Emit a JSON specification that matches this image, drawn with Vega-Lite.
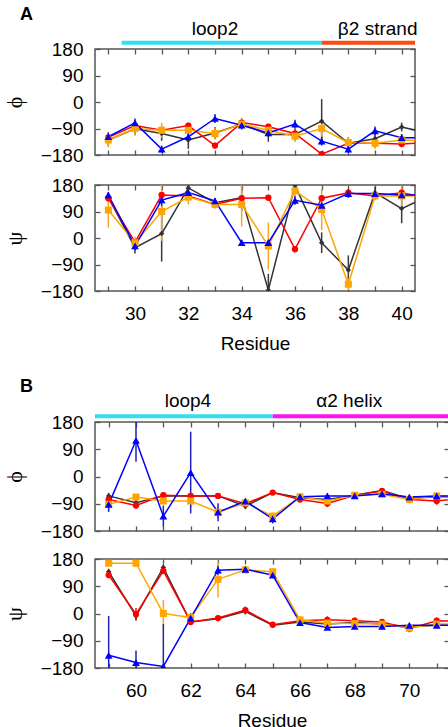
{
  "$schema": "https://vega.github.io/schema/vega-lite/v6.json",
  "padding": {"left": 2, "top": 4, "right": 0, "bottom": 0},
  "config": {
    "font": "Liberation Sans",
    "view": {"stroke": "#555555", "strokeWidth": 1.5},
    "axis": {"grid": false, "domain": false, "tickSize": -5, "tickColor": "#555555", "tickWidth": 1.3, "labelFontSize": 19, "labelColor": "#000000", "labelFont": "Liberation Sans", "labelOverlap": false, "titleFontSize": 19, "titleFontWeight": "normal", "titleColor": "#000000", "titleFont": "Liberation Sans"},
    "title": {"font": "Liberation Sans", "fontSize": 18, "fontWeight": "bold", "color": "#000000"}
  },
  "datasets": {
    "regA": [
      {"region": "loop2", "start": 29.5, "end": 37, "mid": 33},
      {"region": "β2 strand", "start": 37, "end": 40.5, "mid": 39.1}
    ],
    "regB": [
      {"region": "loop4", "start": 58.5, "end": 65, "mid": 61.9},
      {"region": "α2 helix", "start": 65, "end": 71.45, "mid": 67.8}
    ],
    "A": [
      {"r":29,"s":"s1","phi":-129,"phiE":20,"psi":139,"psiE":15},
      {"r":30,"s":"s1","phi":-91,"phiE":20,"psi":-33,"psiE":20},
      {"r":31,"s":"s1","phi":-107,"phiE":25,"psi":15,"psiE":95},
      {"r":32,"s":"s1","phi":-129,"phiE":30,"psi":170,"psiE":20},
      {"r":33,"s":"s1","phi":-105,"phiE":20,"psi":120,"psiE":15},
      {"r":34,"s":"s1","phi":-75,"phiE":20,"psi":137,"psiE":45},
      {"r":35,"s":"s1","phi":-110,"phiE":25,"psi":-177,"psiE":55},
      {"r":36,"s":"s1","phi":-110,"phiE":20,"psi":178,"psiE":15},
      {"r":37,"s":"s1","phi":-65,"phiE":75,"psi":-16,"psiE":35},
      {"r":38,"s":"s1","phi":-140,"phiE":20,"psi":-109,"psiE":50},
      {"r":39,"s":"s1","phi":-125,"phiE":20,"psi":154,"psiE":20},
      {"r":40,"s":"s1","phi":-85,"phiE":15,"psi":100,"psiE":50},
      {"r":41,"s":"s1","phi":-106,"phiE":0,"psi":142,"psiE":0},
      {"r":29,"s":"s2","phi":-120,"phiE":10,"psi":135,"psiE":10},
      {"r":30,"s":"s2","phi":-80,"phiE":10,"psi":-14,"psiE":10},
      {"r":31,"s":"s2","phi":-96,"phiE":10,"psi":146,"psiE":10},
      {"r":32,"s":"s2","phi":-80,"phiE":10,"psi":143,"psiE":10},
      {"r":33,"s":"s2","phi":-148,"phiE":10,"psi":114,"psiE":10},
      {"r":34,"s":"s2","phi":-70,"phiE":10,"psi":135,"psiE":10},
      {"r":35,"s":"s2","phi":-84,"phiE":10,"psi":137,"psiE":10},
      {"r":36,"s":"s2","phi":-107,"phiE":10,"psi":-38,"psiE":10},
      {"r":37,"s":"s2","phi":-177,"phiE":8,"psi":135,"psiE":10},
      {"r":38,"s":"s2","phi":-140,"phiE":10,"psi":154,"psiE":10},
      {"r":39,"s":"s2","phi":-140,"phiE":10,"psi":143,"psiE":10},
      {"r":40,"s":"s2","phi":-143,"phiE":10,"psi":154,"psiE":10},
      {"r":41,"s":"s2","phi":-137,"phiE":0,"psi":137,"psiE":0},
      {"r":29,"s":"s3","phi":-129,"phiE":25,"psi":95,"psiE":60},
      {"r":30,"s":"s3","phi":-90,"phiE":25,"psi":-16,"psiE":20},
      {"r":31,"s":"s3","phi":-96,"phiE":25,"psi":90,"psiE":100},
      {"r":32,"s":"s3","phi":-96,"phiE":20,"psi":139,"psiE":25},
      {"r":33,"s":"s3","phi":-107,"phiE":20,"psi":114,"psiE":15},
      {"r":34,"s":"s3","phi":-75,"phiE":20,"psi":114,"psiE":75},
      {"r":35,"s":"s3","phi":-96,"phiE":20,"psi":-27,"psiE":80},
      {"r":36,"s":"s3","phi":-116,"phiE":20,"psi":160,"psiE":20},
      {"r":37,"s":"s3","phi":-90,"phiE":30,"psi":97,"psiE":70},
      {"r":38,"s":"s3","phi":-138,"phiE":20,"psi":-157,"psiE":20},
      {"r":39,"s":"s3","phi":-140,"phiE":20,"psi":143,"psiE":15},
      {"r":40,"s":"s3","phi":-129,"phiE":20,"psi":143,"psiE":35},
      {"r":41,"s":"s3","phi":-130,"phiE":0,"psi":143,"psiE":0},
      {"r":29,"s":"s4","phi":-118,"phiE":15,"psi":146,"psiE":10},
      {"r":30,"s":"s4","phi":-71,"phiE":15,"psi":-27,"psiE":10},
      {"r":31,"s":"s4","phi":-160,"phiE":12,"psi":129,"psiE":20},
      {"r":32,"s":"s4","phi":-118,"phiE":15,"psi":154,"psiE":15},
      {"r":33,"s":"s4","phi":-56,"phiE":15,"psi":126,"psiE":10},
      {"r":34,"s":"s4","phi":-79,"phiE":12,"psi":-16,"psiE":10},
      {"r":35,"s":"s4","phi":-105,"phiE":12,"psi":-16,"psiE":10},
      {"r":36,"s":"s4","phi":-75,"phiE":15,"psi":128,"psiE":15},
      {"r":37,"s":"s4","phi":-133,"phiE":15,"psi":111,"psiE":10},
      {"r":38,"s":"s4","phi":-160,"phiE":12,"psi":151,"psiE":15},
      {"r":39,"s":"s4","phi":-98,"phiE":15,"psi":151,"psiE":10},
      {"r":40,"s":"s4","phi":-121,"phiE":12,"psi":146,"psiE":10},
      {"r":41,"s":"s4","phi":-121,"phiE":0,"psi":146,"psiE":0}
    ],
    "B": [
      {"r":59,"s":"s1","phi":-64,"phiE":10,"psi":138,"psiE":10},
      {"r":60,"s":"s1","phi":-87,"phiE":10,"psi":-8,"psiE":15},
      {"r":61,"s":"s1","phi":-64,"phiE":10,"psi":152,"psiE":10},
      {"r":62,"s":"s1","phi":-64,"phiE":8,"psi":-28,"psiE":10},
      {"r":63,"s":"s1","phi":-64,"phiE":8,"psi":-17,"psiE":8},
      {"r":64,"s":"s1","phi":-98,"phiE":10,"psi":7,"psiE":10},
      {"r":65,"s":"s1","phi":-53,"phiE":8,"psi":-39,"psiE":8},
      {"r":66,"s":"s1","phi":-70,"phiE":8,"psi":-28,"psiE":8},
      {"r":67,"s":"s1","phi":-76,"phiE":8,"psi":-35,"psiE":8},
      {"r":68,"s":"s1","phi":-62,"phiE":8,"psi":-30,"psiE":8},
      {"r":69,"s":"s1","phi":-46,"phiE":8,"psi":-35,"psiE":8},
      {"r":70,"s":"s1","phi":-73,"phiE":8,"psi":-44,"psiE":8},
      {"r":71,"s":"s1","phi":-67,"phiE":8,"psi":-39,"psiE":8},
      {"r":72,"s":"s1","phi":-67,"phiE":0,"psi":-39,"psiE":0},
      {"r":59,"s":"s2","phi":-76,"phiE":10,"psi":127,"psiE":10},
      {"r":60,"s":"s2","phi":-96,"phiE":10,"psi":-2,"psiE":20},
      {"r":61,"s":"s2","phi":-62,"phiE":10,"psi":141,"psiE":10},
      {"r":62,"s":"s2","phi":-64,"phiE":8,"psi":-28,"psiE":8},
      {"r":63,"s":"s2","phi":-64,"phiE":8,"psi":-15,"psiE":8},
      {"r":64,"s":"s2","phi":-90,"phiE":10,"psi":11,"psiE":12},
      {"r":65,"s":"s2","phi":-53,"phiE":8,"psi":-37,"psiE":8},
      {"r":66,"s":"s2","phi":-76,"phiE":8,"psi":-24,"psiE":8},
      {"r":67,"s":"s2","phi":-89,"phiE":12,"psi":-21,"psiE":12},
      {"r":68,"s":"s2","phi":-62,"phiE":10,"psi":-24,"psiE":10},
      {"r":69,"s":"s2","phi":-48,"phiE":10,"psi":-28,"psiE":10},
      {"r":70,"s":"s2","phi":-76,"phiE":12,"psi":-50,"psiE":12},
      {"r":71,"s":"s2","phi":-81,"phiE":12,"psi":-24,"psiE":10},
      {"r":72,"s":"s2","phi":-70,"phiE":0,"psi":-26,"psiE":0},
      {"r":59,"s":"s3","phi":-92,"phiE":15,"psi":166,"psiE":10},
      {"r":60,"s":"s3","phi":-68,"phiE":10,"psi":166,"psiE":10},
      {"r":61,"s":"s3","phi":-81,"phiE":10,"psi":0,"psiE":45},
      {"r":62,"s":"s3","phi":-81,"phiE":20,"psi":-13,"psiE":15},
      {"r":63,"s":"s3","phi":-118,"phiE":20,"psi":113,"psiE":60},
      {"r":64,"s":"s3","phi":-87,"phiE":10,"psi":144,"psiE":10},
      {"r":65,"s":"s3","phi":-131,"phiE":12,"psi":138,"psiE":10},
      {"r":66,"s":"s3","phi":-67,"phiE":10,"psi":-21,"psiE":10},
      {"r":67,"s":"s3","phi":-81,"phiE":15,"psi":-32,"psiE":12},
      {"r":68,"s":"s3","phi":-62,"phiE":10,"psi":-33,"psiE":10},
      {"r":69,"s":"s3","phi":-59,"phiE":10,"psi":-35,"psiE":10},
      {"r":70,"s":"s3","phi":-76,"phiE":10,"psi":-48,"psiE":10},
      {"r":71,"s":"s3","phi":-64,"phiE":10,"psi":-35,"psiE":10},
      {"r":72,"s":"s3","phi":-64,"phiE":0,"psi":-35,"psiE":0},
      {"r":59,"s":"s4","phi":-92,"phiE":25,"psi":-138,"psiE":130},
      {"r":60,"s":"s4","phi":119,"phiE":70,"psi":-162,"psiE":40},
      {"r":61,"s":"s4","phi":-131,"phiE":35,"psi":-175,"psiE":140},
      {"r":62,"s":"s4","phi":13,"phiE":135,"psi":-15,"psiE":15},
      {"r":63,"s":"s4","phi":-118,"phiE":30,"psi":143,"psiE":15},
      {"r":64,"s":"s4","phi":-81,"phiE":8,"psi":146,"psiE":10},
      {"r":65,"s":"s4","phi":-140,"phiE":15,"psi":127,"psiE":10},
      {"r":66,"s":"s4","phi":-67,"phiE":8,"psi":-30,"psiE":8},
      {"r":67,"s":"s4","phi":-64,"phiE":8,"psi":-46,"psiE":8},
      {"r":68,"s":"s4","phi":-64,"phiE":8,"psi":-43,"psiE":8},
      {"r":69,"s":"s4","phi":-57,"phiE":8,"psi":-43,"psiE":8},
      {"r":70,"s":"s4","phi":-68,"phiE":8,"psi":-39,"psiE":8},
      {"r":71,"s":"s4","phi":-64,"phiE":8,"psi":-39,"psiE":8},
      {"r":72,"s":"s4","phi":-64,"phiE":0,"psi":-39,"psiE":0}
    ]
  },
  "vconcat": [
    {
      "spacing": 9,
      "vconcat": [
        {
          "width": 320, "height": 106,
          "title": {"text": "A", "anchor": "start", "frame": "group", "dx": -75, "offset": -4},
          "resolve": {"scale": {"color": "independent"}, "axis": {"x": "independent", "y": "independent"}},
          "layer": [
            {"data": {"name": "regA"}, "mark": {"type": "rule", "strokeWidth": 4, "clip": false},
             "encoding": {
               "x": {"field": "start", "type": "quantitative", "scale": {"domain": [28.5, 40.5], "nice": false, "zero": false}, "axis": null},
               "x2": {"field": "end"},
               "y": {"datum": 201, "type": "quantitative", "scale": {"domain": [-180, 180], "nice": false, "zero": false}, "axis": null},
               "color": {"field": "region", "type": "nominal", "scale": {"domain": ["loop2", "β2 strand"], "range": ["#33def0", "#ff4a12"]}, "legend": null}}},
            {"data": {"name": "regA"}, "mark": {"type": "text", "fontSize": 19, "baseline": "alphabetic", "align": "center", "clip": false, "color": "#000000"},
             "encoding": {
               "x": {"field": "mid", "type": "quantitative", "axis": null},
               "y": {"datum": 229, "type": "quantitative", "axis": null},
               "text": {"field": "region"}}},
            {"data": {"name": "A"}, "mark": {"type": "errorbar", "ticks": false, "thickness": 1.5, "clip": true},
             "encoding": {
               "x": {"field": "r", "type": "quantitative", "axis": null},
               "y": {"field": "phi", "type": "quantitative", "axis": null},
               "yError": {"field": "phiE"},
               "xOffset": {"field": "s", "type": "nominal", "scale": {"type": "point", "domain": ["s2", "s1", "s3", "s4"], "range": [-4.5, 4], "padding": 0}},
               "color": {"field": "s", "type": "nominal", "scale": {"domain": ["s1", "s2", "s3", "s4"], "range": ["#3a3a3a", "#f01010", "#f5a623", "#2020c0"]}, "legend": null}}},
            {"data": {"name": "A"}, "mark": {"type": "line", "strokeWidth": 1.5, "clip": true},
             "encoding": {
               "x": {"field": "r", "type": "quantitative", "axis": {"orient": "bottom", "values": [29,30,31,32,33,34,35,36,37,38,39,40], "labels": false, "title": null}},
               "y": {"field": "phi", "type": "quantitative", "axis": {"orient": "left", "values": [-180, -90, 0, 90, 180], "labelPadding": 17, "title": "ϕ", "titleFont": "Liberation Serif", "titleFontSize": 22, "titlePadding": 14}},
               "xOffset": {"field": "s", "type": "nominal", "scale": {"type": "point", "domain": ["s2", "s1", "s3", "s4"], "range": [-4.5, 4], "padding": 0}},
               "color": {"field": "s", "type": "nominal", "scale": {"domain": ["s1", "s2", "s3", "s4"], "range": ["#333333", "#ff0000", "#ffa500", "#0000ff"]}, "legend": null}}},
            {"data": {"name": "A"}, "mark": {"type": "point", "filled": true, "opacity": 1, "clip": true},
             "encoding": {
               "x": {"field": "r", "type": "quantitative", "axis": {"orient": "top", "values": [29,30,31,32,33,34,35,36,37,38,39,40], "labels": false, "title": null}},
               "y": {"field": "phi", "type": "quantitative", "axis": {"orient": "right", "values": [-180, -90, 0, 90, 180], "labels": false, "title": null}},
               "xOffset": {"field": "s", "type": "nominal", "scale": {"type": "point", "domain": ["s2", "s1", "s3", "s4"], "range": [-4.5, 4], "padding": 0}},
               "color": {"field": "s", "type": "nominal", "scale": {"domain": ["s1", "s2", "s3", "s4"], "range": ["#333333", "#ff0000", "#ffa500", "#0000ff"]}, "legend": null},
               "shape": {"field": "s", "type": "nominal", "scale": {"domain": ["s1", "s2", "s3", "s4"], "range": ["diamond", "circle", "square", "triangle-up"]}, "legend": null},
               "size": {"field": "s", "type": "nominal", "scale": {"domain": ["s1", "s2", "s3", "s4"], "range": [30, 60, 45, 32]}, "legend": null}}}
          ]
        },
        {
          "width": 320, "height": 106,
          "resolve": {"scale": {"color": "independent"}, "axis": {"x": "independent", "y": "independent"}},
          "layer": [
            {"data": {"name": "A"}, "mark": {"type": "errorbar", "ticks": false, "thickness": 1.5, "clip": true},
             "encoding": {
               "x": {"field": "r", "type": "quantitative", "scale": {"domain": [28.5, 40.5], "nice": false, "zero": false}, "axis": null},
               "y": {"field": "psi", "type": "quantitative", "scale": {"domain": [-180, 180], "nice": false, "zero": false}, "axis": null},
               "yError": {"field": "psiE"},
               "xOffset": {"field": "s", "type": "nominal", "scale": {"type": "point", "domain": ["s2", "s1", "s3", "s4"], "range": [-4.5, 4], "padding": 0}},
               "color": {"field": "s", "type": "nominal", "scale": {"domain": ["s1", "s2", "s3", "s4"], "range": ["#3a3a3a", "#f01010", "#f5a623", "#2020c0"]}, "legend": null}}},
            {"data": {"name": "A"}, "mark": {"type": "line", "strokeWidth": 1.5, "clip": true},
             "encoding": {
               "x": {"field": "r", "type": "quantitative", "axis": {"orient": "bottom", "values": [29,30,31,32,33,34,35,36,37,38,39,40], "labelExpr": "datum.value % 2 == 0 ? datum.label : ''", "labelPadding": 18, "title": "Residue", "titlePadding": 11}},
               "y": {"field": "psi", "type": "quantitative", "axis": {"orient": "left", "values": [-180, -90, 0, 90, 180], "labelPadding": 17, "title": "ψ", "titleFont": "Liberation Serif", "titleFontSize": 22, "titlePadding": 14}},
               "xOffset": {"field": "s", "type": "nominal", "scale": {"type": "point", "domain": ["s2", "s1", "s3", "s4"], "range": [-4.5, 4], "padding": 0}},
               "color": {"field": "s", "type": "nominal", "scale": {"domain": ["s1", "s2", "s3", "s4"], "range": ["#333333", "#ff0000", "#ffa500", "#0000ff"]}, "legend": null}}},
            {"data": {"name": "A"}, "mark": {"type": "point", "filled": true, "opacity": 1, "clip": true},
             "encoding": {
               "x": {"field": "r", "type": "quantitative", "axis": {"orient": "top", "values": [29,30,31,32,33,34,35,36,37,38,39,40], "labels": false, "title": null}},
               "y": {"field": "psi", "type": "quantitative", "axis": {"orient": "right", "values": [-180, -90, 0, 90, 180], "labels": false, "title": null}},
               "xOffset": {"field": "s", "type": "nominal", "scale": {"type": "point", "domain": ["s2", "s1", "s3", "s4"], "range": [-4.5, 4], "padding": 0}},
               "color": {"field": "s", "type": "nominal", "scale": {"domain": ["s1", "s2", "s3", "s4"], "range": ["#333333", "#ff0000", "#ffa500", "#0000ff"]}, "legend": null},
               "shape": {"field": "s", "type": "nominal", "scale": {"domain": ["s1", "s2", "s3", "s4"], "range": ["diamond", "circle", "square", "triangle-up"]}, "legend": null},
               "size": {"field": "s", "type": "nominal", "scale": {"domain": ["s1", "s2", "s3", "s4"], "range": [30, 60, 45, 32]}, "legend": null}}}
          ]
        }
      ]
    },
    {
      "spacing": 7,
      "vconcat": [
        {
          "width": 354, "height": 109,
          "title": {"text": "B", "anchor": "start", "frame": "group", "dx": -75, "offset": -4},
          "resolve": {"scale": {"color": "independent"}, "axis": {"x": "independent", "y": "independent"}},
          "layer": [
            {"data": {"name": "regB"}, "mark": {"type": "rule", "strokeWidth": 4, "clip": false},
             "encoding": {
               "x": {"field": "start", "type": "quantitative", "scale": {"domain": [58.5, 71.45], "nice": false, "zero": false}, "axis": null},
               "x2": {"field": "end"},
               "y": {"datum": 199, "type": "quantitative", "scale": {"domain": [-180, 180], "nice": false, "zero": false}, "axis": null},
               "color": {"field": "region", "type": "nominal", "scale": {"domain": ["loop4", "α2 helix"], "range": ["#33def0", "#ff10f0"]}, "legend": null}}},
            {"data": {"name": "regB"}, "mark": {"type": "text", "fontSize": 19, "baseline": "alphabetic", "align": "center", "clip": false, "color": "#000000"},
             "encoding": {
               "x": {"field": "mid", "type": "quantitative", "axis": null},
               "y": {"datum": 230, "type": "quantitative", "axis": null},
               "text": {"field": "region"}}},
            {"data": {"name": "B"}, "mark": {"type": "errorbar", "ticks": false, "thickness": 1.5, "clip": true},
             "encoding": {
               "x": {"field": "r", "type": "quantitative", "axis": null},
               "y": {"field": "phi", "type": "quantitative", "axis": null},
               "yError": {"field": "phiE"},
               "xOffset": {"field": "s", "type": "nominal", "scale": {"type": "point", "domain": ["s2", "s1", "s3", "s4"], "range": [-4.5, 4], "padding": 0}},
               "color": {"field": "s", "type": "nominal", "scale": {"domain": ["s1", "s2", "s3", "s4"], "range": ["#3a3a3a", "#f01010", "#f5a623", "#2020c0"]}, "legend": null}}},
            {"data": {"name": "B"}, "mark": {"type": "line", "strokeWidth": 1.5, "clip": true},
             "encoding": {
               "x": {"field": "r", "type": "quantitative", "axis": {"orient": "bottom", "values": [59,60,61,62,63,64,65,66,67,68,69,70,71], "labels": false, "title": null}},
               "y": {"field": "phi", "type": "quantitative", "axis": {"orient": "left", "values": [-180, -90, 0, 90, 180], "labelPadding": 17, "title": "ϕ", "titleFont": "Liberation Serif", "titleFontSize": 22, "titlePadding": 14}},
               "xOffset": {"field": "s", "type": "nominal", "scale": {"type": "point", "domain": ["s2", "s1", "s3", "s4"], "range": [-4.5, 4], "padding": 0}},
               "color": {"field": "s", "type": "nominal", "scale": {"domain": ["s1", "s2", "s3", "s4"], "range": ["#333333", "#ff0000", "#ffa500", "#0000ff"]}, "legend": null}}},
            {"data": {"name": "B"}, "mark": {"type": "point", "filled": true, "opacity": 1, "clip": true},
             "encoding": {
               "x": {"field": "r", "type": "quantitative", "axis": {"orient": "top", "values": [59,60,61,62,63,64,65,66,67,68,69,70,71], "labels": false, "title": null}},
               "y": {"field": "phi", "type": "quantitative", "axis": {"orient": "right", "values": [-180, -90, 0, 90, 180], "labels": false, "title": null}},
               "xOffset": {"field": "s", "type": "nominal", "scale": {"type": "point", "domain": ["s2", "s1", "s3", "s4"], "range": [-4.5, 4], "padding": 0}},
               "color": {"field": "s", "type": "nominal", "scale": {"domain": ["s1", "s2", "s3", "s4"], "range": ["#333333", "#ff0000", "#ffa500", "#0000ff"]}, "legend": null},
               "shape": {"field": "s", "type": "nominal", "scale": {"domain": ["s1", "s2", "s3", "s4"], "range": ["diamond", "circle", "square", "triangle-up"]}, "legend": null},
               "size": {"field": "s", "type": "nominal", "scale": {"domain": ["s1", "s2", "s3", "s4"], "range": [30, 60, 45, 32]}, "legend": null}}}
          ]
        },
        {
          "width": 354, "height": 109,
          "resolve": {"scale": {"color": "independent"}, "axis": {"x": "independent", "y": "independent"}},
          "layer": [
            {"data": {"name": "B"}, "mark": {"type": "errorbar", "ticks": false, "thickness": 1.5, "clip": true},
             "encoding": {
               "x": {"field": "r", "type": "quantitative", "scale": {"domain": [58.5, 71.45], "nice": false, "zero": false}, "axis": null},
               "y": {"field": "psi", "type": "quantitative", "scale": {"domain": [-180, 180], "nice": false, "zero": false}, "axis": null},
               "yError": {"field": "psiE"},
               "xOffset": {"field": "s", "type": "nominal", "scale": {"type": "point", "domain": ["s2", "s1", "s3", "s4"], "range": [-4.5, 4], "padding": 0}},
               "color": {"field": "s", "type": "nominal", "scale": {"domain": ["s1", "s2", "s3", "s4"], "range": ["#3a3a3a", "#f01010", "#f5a623", "#2020c0"]}, "legend": null}}},
            {"data": {"name": "B"}, "mark": {"type": "line", "strokeWidth": 1.5, "clip": true},
             "encoding": {
               "x": {"field": "r", "type": "quantitative", "axis": {"orient": "bottom", "values": [59,60,61,62,63,64,65,66,67,68,69,70,71], "labelExpr": "datum.value % 2 == 0 ? datum.label : ''", "labelPadding": 18, "title": "Residue", "titlePadding": 11}},
               "y": {"field": "psi", "type": "quantitative", "axis": {"orient": "left", "values": [-180, -90, 0, 90, 180], "labelPadding": 17, "title": "ψ", "titleFont": "Liberation Serif", "titleFontSize": 22, "titlePadding": 14}},
               "xOffset": {"field": "s", "type": "nominal", "scale": {"type": "point", "domain": ["s2", "s1", "s3", "s4"], "range": [-4.5, 4], "padding": 0}},
               "color": {"field": "s", "type": "nominal", "scale": {"domain": ["s1", "s2", "s3", "s4"], "range": ["#333333", "#ff0000", "#ffa500", "#0000ff"]}, "legend": null}}},
            {"data": {"name": "B"}, "mark": {"type": "point", "filled": true, "opacity": 1, "clip": true},
             "encoding": {
               "x": {"field": "r", "type": "quantitative", "axis": {"orient": "top", "values": [59,60,61,62,63,64,65,66,67,68,69,70,71], "labels": false, "title": null}},
               "y": {"field": "psi", "type": "quantitative", "axis": {"orient": "right", "values": [-180, -90, 0, 90, 180], "labels": false, "title": null}},
               "xOffset": {"field": "s", "type": "nominal", "scale": {"type": "point", "domain": ["s2", "s1", "s3", "s4"], "range": [-4.5, 4], "padding": 0}},
               "color": {"field": "s", "type": "nominal", "scale": {"domain": ["s1", "s2", "s3", "s4"], "range": ["#333333", "#ff0000", "#ffa500", "#0000ff"]}, "legend": null},
               "shape": {"field": "s", "type": "nominal", "scale": {"domain": ["s1", "s2", "s3", "s4"], "range": ["diamond", "circle", "square", "triangle-up"]}, "legend": null},
               "size": {"field": "s", "type": "nominal", "scale": {"domain": ["s1", "s2", "s3", "s4"], "range": [30, 60, 45, 32]}, "legend": null}}}
          ]
        }
      ]
    }
  ],
  "spacing": 23
}
